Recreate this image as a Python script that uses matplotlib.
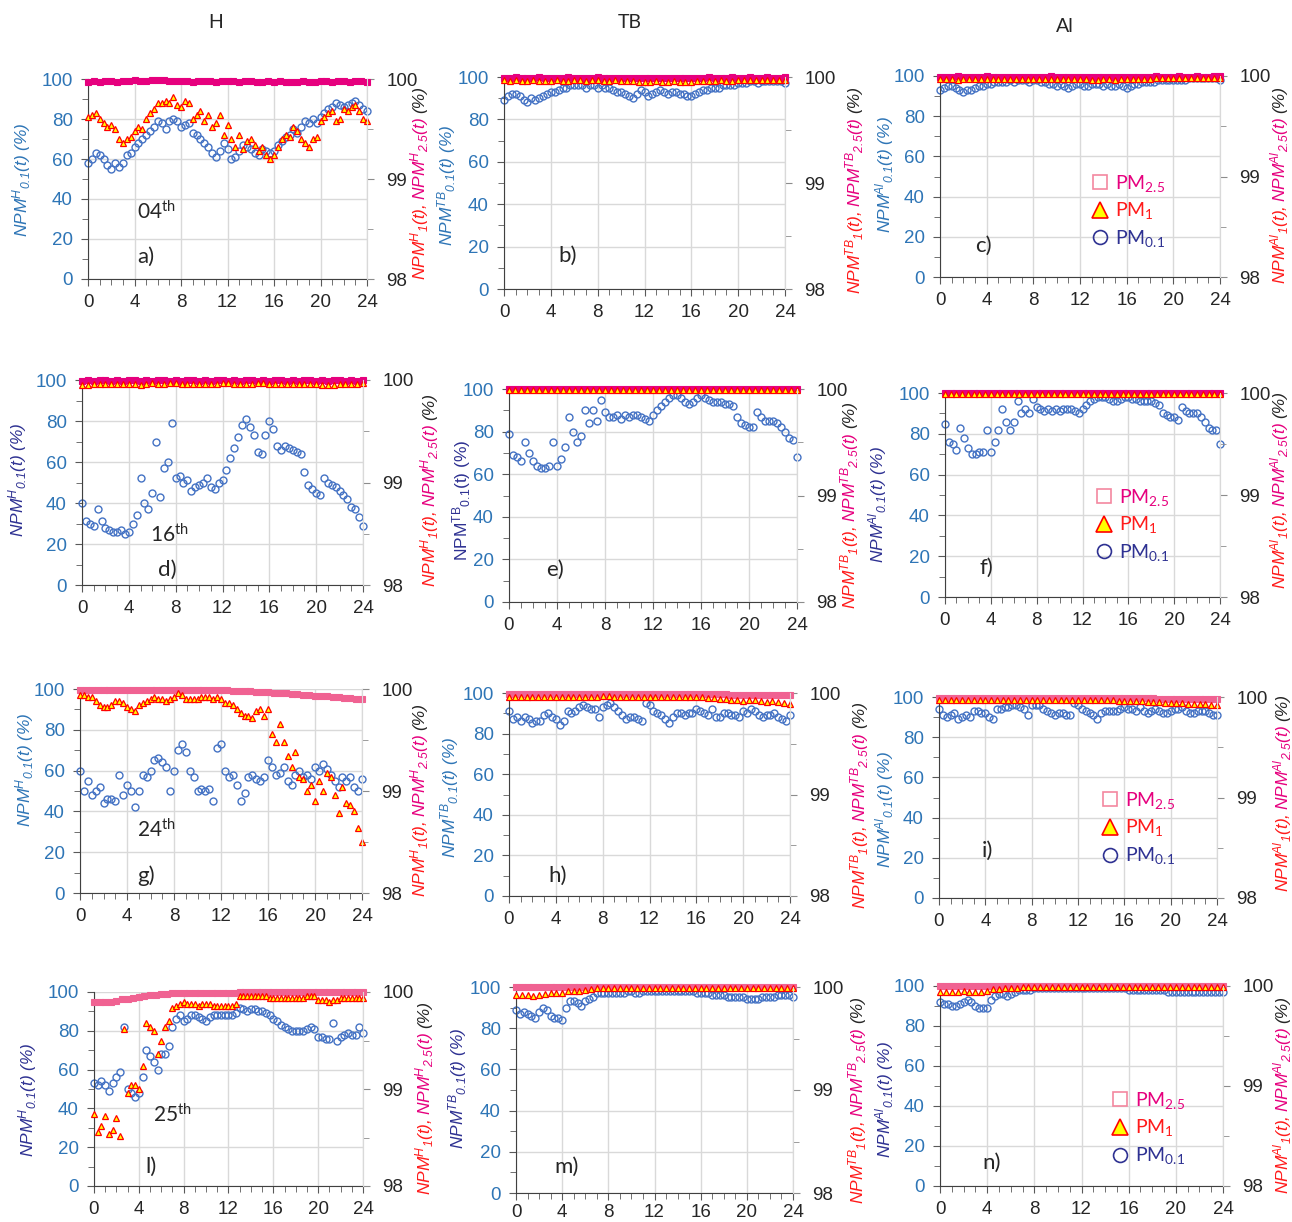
import numpy as np
import matplotlib
matplotlib.use("Agg")
import matplotlib.pyplot as plt
from matplotlib.lines import Line2D
from matplotlib.ticker import MultipleLocator
from matplotlib.transforms import IdentityTransform

plt.rcParams['font.family'] = ['Liberation Sans', 'DejaVu Sans']
plt.rcParams['mathtext.default'] = 'regular'

# ---- data: NPM (%) over the day, PM0.1 on left axis, PM1 / PM2.5 on right axis ----
a_pm01 = [58, 60, 63, 62, 60, 57, 55, 58, 56, 58, 62, 63, 66, 68, 70, 72, 74, 76, 79, 78,
          75, 79, 80, 79, 76, 77, 78, 73, 72, 70, 68, 66, 63, 61, 64, 68, 65, 60, 61, 64,
          67, 66, 65, 63, 62, 65, 64, 63, 64, 67, 69, 71, 72, 75, 73, 76, 79, 78, 80, 78,
          81, 83, 85, 86, 88, 87, 86, 87, 88, 89, 87, 85, 84]
a_pm1 = [99.62, 99.64, 99.66, 99.60, 99.56, 99.52, 99.54, 99.50, 99.40, 99.36, 99.40, 99.42,
         99.48, 99.52, 99.50, 99.60, 99.66, 99.70, 99.76, 99.76, 99.78, 99.76, 99.82, 99.74,
         99.72, 99.78, 99.76, 99.60, 99.64, 99.68, 99.58, 99.64, 99.52, 99.56, 99.64, 99.44,
         99.54, 99.40, 99.32, 99.44, 99.30, 99.38, 99.40, 99.34, 99.28, 99.32, 99.24, 99.20,
         99.24, 99.32, 99.40, 99.44, 99.42, 99.52, 99.48, 99.40, 99.36, 99.32, 99.40, 99.42,
         99.58, 99.62, 99.66, 99.68, 99.58, 99.60, 99.70, 99.68, 99.72, 99.74, 99.68, 99.60,
         99.58]
a_pm25 = [99.97, 99.98, 99.97, 99.98, 99.98, 99.97, 99.98, 99.98, 99.99, 99.98, 99.98, 99.99,
          99.99, 99.99, 99.98, 99.98, 99.98, 99.98, 99.97, 99.98, 99.98, 99.98, 99.97, 99.98,
          99.98, 99.98, 99.97, 99.98, 99.98, 99.97, 99.97, 99.98, 99.97, 99.98, 99.97, 99.97,
          99.97, 99.98, 99.97, 99.97, 99.98, 99.98, 99.97, 99.98, 99.98, 99.97, 99.98, 99.98,
          99.97]

b_pm01 = [89, 91, 92, 92, 91, 89, 88, 90, 89, 90, 91, 92, 93, 93, 94, 95, 95, 96, 96, 96,
          96, 95, 96, 96, 95, 96, 95, 95, 94, 93, 93, 92, 91, 90, 92, 94, 93, 91, 92, 93,
          94, 93, 92, 93, 93, 92, 92, 91, 91, 92, 93, 94, 94, 95, 95, 95, 96, 96, 96, 96,
          97, 97, 97, 98, 98, 97, 98, 98, 98, 98, 98, 98, 97]
b_pm1 = [99.97, 99.96, 99.97, 99.96, 99.96, 99.97, 99.96, 99.96, 99.96, 99.97, 99.96, 99.96,
         99.97, 99.97, 99.96, 99.97, 99.97, 99.96, 99.96, 99.97, 99.96, 99.96, 99.96, 99.95,
         99.95, 99.95, 99.96, 99.95, 99.95, 99.96, 99.95, 99.95, 99.95, 99.96, 99.96, 99.96,
         99.96, 99.97, 99.96, 99.96, 99.97, 99.97, 99.97, 99.97, 99.97, 99.97, 99.97, 99.97,
         99.97]
b_pm25 = [99.99, 99.99, 100.0, 99.99, 99.99, 99.99, 100.0, 99.99, 99.99, 99.99, 99.99, 100.0,
          99.99, 99.99, 99.99, 99.99, 100.0, 99.99, 99.99, 99.99, 99.99, 99.99, 99.99, 99.99,
          99.99, 99.99, 99.99, 99.99, 99.99, 99.99, 99.99, 99.99, 99.99, 99.99, 99.99, 100.0,
          99.99, 99.99, 99.99, 100.0, 99.99, 99.99, 100.0, 99.99, 99.99, 100.0, 99.99, 99.99,
          100.0]

c_pm01 = [93, 94, 95, 95, 94, 93, 92, 93, 93, 94, 95, 95, 96, 96, 97, 97, 97, 97, 98, 97,
          98, 98, 98, 97, 98, 98, 97, 97, 96, 96, 95, 96, 95, 94, 95, 96, 96, 95, 95, 96,
          96, 96, 95, 96, 95, 95, 96, 95, 94, 95, 96, 96, 97, 97, 97, 97, 98, 98, 98, 98,
          98, 98, 98, 98, 99, 99, 99, 99, 99, 99, 99, 99, 98]
c_pm1 = [99.97, 99.97, 99.97, 99.96, 99.97, 99.97, 99.97, 99.97, 99.97, 99.97, 99.97, 99.97,
         99.97, 99.97, 99.97, 99.97, 99.97, 99.97, 99.97, 99.97, 99.97, 99.97, 99.97, 99.97,
         99.97, 99.97, 99.96, 99.96, 99.97, 99.97, 99.96, 99.97, 99.97, 99.97, 99.97, 99.97,
         99.97, 99.98, 99.98, 99.98, 99.98, 99.98, 99.98, 99.98, 99.98, 99.98, 99.98, 99.98,
         99.98]
c_pm25 = [99.99, 99.99, 99.99, 100.0, 99.99, 99.99, 99.99, 99.99, 100.0, 99.99, 99.99, 99.99,
          99.99, 99.99, 99.99, 99.99, 99.99, 99.99, 99.99, 100.0, 99.99, 99.99, 99.99, 99.99,
          99.99, 99.99, 99.99, 99.99, 99.99, 99.99, 99.99, 99.99, 99.99, 99.99, 99.99, 99.99,
          99.99, 100.0, 99.99, 99.99, 99.99, 100.0, 99.99, 99.99, 100.0, 99.99, 99.99, 100.0,
          100.0]

d_pm01 = [40, 31, 30, 29, 37, 31, 28, 27, 26, 26, 27, 25, 26, 30, 34, 52, 40, 37, 45, 70,
          43, 57, 60, 79, 52, 53, 50, 51, 46, 48, 49, 50, 52, 48, 47, 50, 51, 56, 62, 67,
          72, 78, 81, 77, 73, 65, 64, 73, 80, 76, 68, 66, 68, 67, 66, 65, 64, 55, 49, 47,
          45, 44, 52, 50, 49, 48, 46, 44, 42, 38, 37, 33, 29]
d_pm1 = [99.95, 99.95, 99.96, 99.96, 99.96, 99.96, 99.96, 99.96, 99.96, 99.96, 99.95, 99.96,
         99.97, 99.96, 99.96, 99.97, 99.97, 99.96, 99.96, 99.96, 99.96, 99.96, 99.96, 99.96,
         99.97, 99.97, 99.96, 99.96, 99.96, 99.96, 99.97, 99.97, 99.96, 99.96, 99.96, 99.96,
         99.96, 99.96, 99.96, 99.96, 99.96, 99.95, 99.95, 99.95, 99.96, 99.96, 99.96, 99.96,
         99.97]
d_pm25 = [99.99, 100.0, 99.99, 100.0, 100.0, 99.99, 100.0, 99.99, 100.0, 100.0, 99.99, 100.0,
          99.99, 100.0, 100.0, 99.99, 100.0, 99.99, 100.0, 100.0, 99.99, 100.0, 99.99, 100.0,
          100.0, 99.99, 100.0, 99.99, 100.0, 100.0, 99.99, 100.0, 99.99, 100.0, 100.0, 99.99,
          100.0, 99.99, 100.0, 100.0, 99.99, 100.0, 99.99, 100.0, 100.0, 99.99, 100.0, 99.99,
          100.0]

e_pm01 = [79, 69, 68, 66, 75, 70, 66, 64, 63, 63, 64, 75, 64, 67, 73, 87, 80, 75, 78, 90,
          84, 90, 85, 95, 89, 87, 87, 88, 86, 88, 87, 88, 88, 87, 86, 85, 88, 90, 92, 94,
          96, 97, 97, 96, 94, 93, 94, 96, 97, 96, 95, 94, 94, 94, 93, 93, 92, 87, 84, 83,
          82, 82, 89, 87, 85, 85, 85, 84, 82, 80, 77, 76, 68]
e_pm1 = [99.99, 99.99, 99.99, 99.99, 99.99, 99.99, 99.99, 99.99, 99.99, 99.99, 99.99, 99.99,
         99.99, 99.99, 99.99, 99.99, 99.99, 99.99, 99.99, 99.99, 99.99, 99.99, 99.99, 99.99,
         99.99, 99.99, 99.99, 99.99, 99.99, 99.99, 99.99, 99.99, 99.99, 99.99, 99.99, 99.99,
         99.99, 99.99, 99.99, 99.99, 99.99, 99.99, 99.99, 99.99, 99.99, 99.99, 99.99, 99.99,
         99.99]
e_pm25 = [100.0, 100.0, 100.0, 100.0, 100.0, 100.0, 100.0, 100.0, 100.0, 100.0, 100.0, 100.0,
          100.0, 100.0, 100.0, 100.0, 100.0, 100.0, 100.0, 100.0, 100.0, 100.0, 100.0, 100.0,
          100.0, 100.0, 100.0, 100.0, 100.0, 100.0, 100.0, 100.0, 100.0, 100.0, 100.0, 100.0,
          100.0, 100.0, 100.0, 100.0, 100.0, 100.0, 100.0, 100.0, 100.0, 100.0, 100.0, 100.0,
          100.0]

f_pm01 = [85, 76, 75, 72, 83, 78, 73, 70, 70, 71, 71, 82, 71, 76, 82, 92, 86, 82, 86, 96,
          90, 92, 90, 97, 93, 92, 91, 92, 91, 92, 91, 92, 92, 92, 91, 90, 92, 94, 96, 97,
          98, 98, 98, 97, 96, 96, 97, 98, 98, 97, 97, 96, 96, 96, 96, 95, 94, 90, 89, 88,
          88, 87, 93, 91, 90, 90, 90, 88, 86, 83, 82, 82, 75]
f_pm1 = e_pm1
f_pm25 = e_pm25

g_pm01 = [60, 50, 55, 48, 50, 52, 44, 46, 46, 45, 58, 48, 53, 50, 42, 50, 58, 57, 60, 65,
          66, 64, 62, 50, 60, 70, 73, 69, 60, 57, 50, 51, 50, 51, 45, 71, 73, 60, 57, 58,
          53, 45, 49, 57, 58, 56, 55, 57, 65, 62, 58, 59, 62, 55, 53, 58, 60, 57, 58, 56,
          62, 60, 63, 61, 58, 55, 52, 57, 55, 57, 52, 50, 56]
g_pm1 = [99.94, 99.94, 99.92, 99.92, 99.88, 99.84, 99.82, 99.82, 99.84, 99.88, 99.88, 99.86,
         99.82, 99.80, 99.78, 99.84, 99.86, 99.88, 99.90, 99.92, 99.90, 99.90, 99.88, 99.90,
         99.92, 99.96, 99.94, 99.90, 99.90, 99.90, 99.90, 99.92, 99.92, 99.92, 99.90, 99.92,
         99.90, 99.86, 99.86, 99.84, 99.80, 99.76, 99.74, 99.74, 99.72, 99.78, 99.80, 99.74,
         99.80, 99.56, 99.48, 99.66, 99.48, 99.34, 99.24, 99.38, 99.14, 99.12, 99.00, 99.06,
         98.90, 99.10, 99.00, 99.18, 99.14, 98.96, 98.78, 99.04, 98.88, 98.86, 98.80, 98.64,
         98.50]
g_pm25 = [99.99, 99.99, 99.99, 99.99, 99.99, 99.99, 99.99, 99.99, 99.99, 99.99, 99.99, 99.99,
          99.99, 99.99, 99.99, 99.99, 99.99, 99.99, 99.99, 99.99, 99.99, 99.99, 99.99, 99.99,
          99.99, 99.99, 99.98, 99.98, 99.98, 99.98, 99.97, 99.97, 99.97, 99.96, 99.96, 99.96,
          99.95, 99.95, 99.94, 99.94, 99.93, 99.93, 99.93, 99.92, 99.92, 99.91, 99.91, 99.90,
          99.90]

h_pm01 = [91, 87, 88, 86, 88, 87, 85, 86, 86, 89, 90, 88, 87, 84, 86, 91, 90, 91, 93, 94,
          93, 92, 92, 88, 93, 94, 95, 93, 91, 89, 87, 88, 88, 87, 86, 95, 94, 91, 90, 89,
          87, 85, 88, 90, 90, 89, 90, 90, 92, 91, 90, 89, 92, 88, 88, 90, 90, 89, 89, 88,
          91, 90, 92, 91, 89, 88, 89, 89, 90, 88, 87, 86, 89]
h_pm1 = [99.96, 99.96, 99.96, 99.96, 99.96, 99.96, 99.96, 99.96, 99.96, 99.96, 99.96, 99.96,
         99.96, 99.96, 99.96, 99.96, 99.97, 99.97, 99.96, 99.96, 99.96, 99.96, 99.96, 99.96,
         99.96, 99.96, 99.96, 99.96, 99.96, 99.96, 99.96, 99.96, 99.96, 99.96, 99.95, 99.95,
         99.94, 99.94, 99.93, 99.93, 99.92, 99.93, 99.93, 99.92, 99.91, 99.92, 99.91, 99.90,
         99.89]
h_pm25 = [99.99, 99.99, 99.99, 99.99, 99.99, 99.99, 99.99, 99.99, 99.99, 99.99, 99.99, 99.99,
          99.99, 99.99, 99.99, 99.99, 99.99, 99.99, 99.99, 99.99, 99.99, 99.99, 99.99, 99.99,
          99.99, 99.99, 99.99, 99.99, 99.99, 99.99, 99.99, 99.99, 99.99, 99.99, 99.99, 99.99,
          99.99, 99.99, 99.98, 99.98, 99.98, 99.98, 99.98, 99.98, 99.98, 99.98, 99.98, 99.98,
          99.98]

i_pm01 = [94, 91, 90, 91, 92, 89, 90, 91, 90, 93, 93, 92, 92, 90, 89, 94, 94, 95, 95, 96,
          96, 95, 94, 91, 96, 96, 96, 94, 93, 92, 91, 92, 92, 91, 91, 97, 96, 94, 93, 92,
          91, 89, 92, 93, 93, 93, 93, 94, 95, 94, 94, 93, 95, 93, 92, 93, 94, 93, 92, 92,
          93, 94, 94, 95, 93, 92, 92, 93, 93, 93, 92, 91, 91]
i_pm1 = [99.97, 99.97, 99.97, 99.97, 99.97, 99.97, 99.97, 99.97, 99.97, 99.97, 99.97, 99.97,
         99.97, 99.97, 99.97, 99.97, 99.97, 99.97, 99.97, 99.97, 99.97, 99.97, 99.97, 99.97,
         99.97, 99.97, 99.97, 99.97, 99.97, 99.97, 99.97, 99.96, 99.96, 99.96, 99.96, 99.96,
         99.95, 99.95, 99.95, 99.94, 99.94, 99.94, 99.94, 99.93, 99.93, 99.93, 99.93, 99.92,
         99.92]
i_pm25 = h_pm25

l_pm01 = [53, 52, 54, 52, 49, 53, 56, 59, 82, 50, 48, 46, 48, 56, 70, 67, 64, 60, 68, 68,
          72, 82, 86, 88, 85, 86, 88, 88, 87, 86, 85, 87, 88, 88, 88, 88, 88, 88, 89, 92,
          91, 90, 91, 91, 90, 90, 89, 88, 86, 85, 83, 82, 81, 80, 80, 80, 80, 81, 82, 81,
          77, 77, 76, 76, 84, 75, 77, 78, 79, 78, 78, 82, 79]
l_pm1 = [98.74, 98.56, 98.62, 98.72, 98.54, 98.58, 98.70, 98.52, 99.62, 98.96, 99.04, 99.04,
         99.00, 99.24, 99.68, 99.64, 99.60, 99.36, 99.50, 99.64, 99.70, 99.84, 99.86, 99.88,
         99.90, 99.88, 99.88, 99.88, 99.86, 99.88, 99.88, 99.88, 99.86, 99.86, 99.86, 99.86,
         99.86, 99.86, 99.88, 99.96, 99.96, 99.96, 99.96, 99.96, 99.96, 99.96, 99.96, 99.94,
         99.94, 99.94, 99.94, 99.94, 99.94, 99.94, 99.94, 99.94, 99.94, 99.96, 99.96, 99.96,
         99.92, 99.92, 99.92, 99.90, 99.92, 99.92, 99.94, 99.94, 99.94, 99.94, 99.94, 99.94,
         99.94]
l_pm25 = [99.90, 99.90, 99.90, 99.90, 99.91, 99.93, 99.93, 99.94, 99.95, 99.96, 99.97, 99.97,
          99.98, 99.98, 99.99, 99.99, 99.99, 99.99, 99.99, 99.99, 99.99, 99.99, 99.99, 99.99,
          99.99, 99.99, 100.0, 100.0, 100.0, 100.0, 100.0, 100.0, 100.0, 100.0, 100.0, 100.0,
          100.0, 100.0, 100.0, 100.0, 100.0, 100.0, 100.0, 100.0, 100.0, 100.0, 100.0, 100.0,
          100.0]

m_pm01 = [89, 87, 88, 87, 86, 85, 88, 90, 89, 86, 85, 85, 84, 90, 93, 93, 92, 91, 93, 94,
          95, 97, 97, 97, 97, 97, 97, 97, 97, 98, 98, 97, 97, 98, 98, 98, 98, 98, 98, 98,
          98, 98, 98, 98, 98, 98, 98, 97, 97, 97, 97, 96, 96, 96, 96, 95, 95, 95, 95, 95,
          94, 94, 94, 94, 95, 95, 95, 95, 96, 96, 96, 96, 95]
m_pm1 = [99.92, 99.92, 99.92, 99.91, 99.92, 99.93, 99.94, 99.94, 99.94, 99.96, 99.96, 99.96,
         99.97, 99.98, 99.99, 99.99, 99.99, 99.99, 99.99, 99.99, 99.99, 99.99, 99.99, 99.99,
         99.99, 99.99, 99.99, 99.99, 99.99, 99.99, 99.99, 99.99, 99.99, 99.99, 99.99, 99.99,
         99.99, 99.99, 99.99, 99.99, 99.99, 99.99, 99.99, 99.99, 99.99, 99.99, 99.99, 99.99,
         99.99]
m_pm25 = e_pm25

n_pm01 = [92, 91, 91, 90, 90, 91, 92, 93, 92, 90, 89, 89, 89, 93, 95, 96, 96, 95, 96, 97,
          98, 98, 98, 98, 99, 99, 99, 99, 99, 99, 99, 99, 99, 99, 99, 99, 99, 99, 99, 99,
          99, 99, 99, 99, 99, 99, 99, 99, 98, 98, 98, 98, 98, 98, 98, 98, 98, 98, 97, 97,
          97, 97, 97, 97, 97, 97, 97, 97, 97, 97, 97, 97, 97]
n_pm1 = [99.94, 99.94, 99.94, 99.94, 99.95, 99.94, 99.94, 99.94, 99.95, 99.97, 99.97, 99.98,
         99.98, 99.98, 99.99, 99.99, 99.99, 99.99, 99.99, 99.99, 99.99, 99.99, 99.99, 99.99,
         99.99, 99.99, 99.99, 99.99, 99.99, 99.99, 99.99, 99.99, 99.99, 99.99, 99.99, 99.99,
         99.99, 99.99, 99.99, 99.99, 99.99, 99.99, 99.99, 99.99, 99.99, 99.99, 99.99, 99.99,
         99.99]
n_pm25 = e_pm25

columns = ['H', 'TB', 'Al']
days = ['04', '16', '24', '25']
letters = ['a', 'b', 'c', 'd', 'e', 'f', 'g', 'h', 'i', 'l', 'm', 'n']
site_tags = ['H', 'TB', 'Al']

W, H = 1292, 1222
fig = plt.figure(figsize=(W / 100, H / 100), dpi=100)

BLUE_TICK = '#2E75B6'
NAVY = '#2E3192'
RED = '#FF1A1A'
MAG = '#E6007E'
DARK = '#262626'

# panel boxes in pixels (x0, top, x1, bottom)
boxes = {
    'a': (88, 79, 367, 279), 'b': (504, 77, 785, 289), 'c': (940, 76, 1220, 277),
    'd': (82, 380, 363, 585), 'e': (509, 389, 797, 602), 'f': (945, 393, 1220, 597),
    'g': (80, 689, 362, 893), 'h': (509, 693, 790, 896), 'i': (939, 697, 1217, 898),
    'l': (94, 992, 363, 1186), 'm': (516, 987, 793, 1193), 'n': (940, 986, 1223, 1186),
}
series = {
    'a': (a_pm01, a_pm1, a_pm25), 'b': (b_pm01, b_pm1, b_pm25), 'c': (c_pm01, c_pm1, c_pm25),
    'd': (d_pm01, d_pm1, d_pm25), 'e': (e_pm01, e_pm1, e_pm25), 'f': (f_pm01, f_pm1, f_pm25),
    'g': (g_pm01, g_pm1, g_pm25), 'h': (h_pm01, h_pm1, h_pm25), 'i': (i_pm01, i_pm1, i_pm25),
    'l': (l_pm01, l_pm1, l_pm25), 'm': (m_pm01, m_pm1, m_pm25), 'n': (n_pm01, n_pm1, n_pm25),
}
# label placement: (left label x, y centre, colour, italic), (right label x, y centre)
left_lab = {'a': (22, 180, BLUE_TICK, True), 'b': (447, 185, BLUE_TICK, True),
            'c': (885, 175, BLUE_TICK, True), 'd': (18, 480, NAVY, True),
            'e': (462, 500, NAVY, False), 'f': (878, 505, NAVY, True),
            'g': (25, 770, BLUE_TICK, True), 'h': (450, 797, BLUE_TICK, True),
            'i': (885, 810, BLUE_TICK, True), 'l': (28, 1100, NAVY, True),
            'm': (458, 1088, NAVY, True), 'n': (885, 1100, NAVY, True)}
right_lab = {'a': (420, 183), 'b': (855, 190), 'c': (1280, 185), 'd': (430, 490),
             'e': (850, 505), 'f': (1280, 490), 'g': (420, 800), 'h': (860, 805),
             'i': (1283, 793), 'l': (425, 1098), 'm': (858, 1100), 'n': (1283, 1095)}
letter_pos = {'a': (137, 257), 'b': (558, 256), 'c': (975, 246), 'd': (158, 570),
              'e': (546, 570), 'f': (980, 568), 'g': (137, 876), 'h': (548, 876),
              'i': (982, 851), 'l': (145, 1167), 'm': (554, 1167), 'n': (982, 1163)}
day_pos = {'a': (137, 212), 'd': (150, 535), 'g': (137, 830), 'l': (153, 1115)}
legend_pos = {'c': (1090, 211), 'f': (1094, 525), 'i': (1100, 828), 'n': (1110, 1128)}
pink_col = {'a': '#E6007E', 'b': '#E6007E', 'c': '#E6007E', 'd': '#E6007E',
            'e': '#E6007E', 'f': '#E6007E', 'g': '#F06292', 'h': '#F06292',
            'i': '#F06292', 'l': '#F06292', 'm': '#F06292', 'n': '#F06292'}

renderer = fig.canvas.get_renderer()


def vlabel(x, yc, parts, size=12.5, style='italic', gap=4):
    ts = []
    for s, c in parts:
        ts.append(fig.text(x, 0, s, rotation=90, color=c, fontsize=size, style=style,
                           ha='center', va='bottom', transform=IdentityTransform()))
    hs = [t.get_window_extent(renderer).height for t in ts]
    y = (H - yc) - (sum(hs) + gap * (len(ts) - 1)) / 2
    for t, h in zip(ts, hs):
        t.set_y(y)
        y += h + gap


for k, key in enumerate(letters):
    row, col = divmod(k, 3)
    tag = site_tags[col]
    x0, y0, x1, y1 = boxes[key]
    ax = fig.add_axes([x0 / W, 1 - y1 / H, (x1 - x0) / W, (y1 - y0) / H])
    ax2 = ax.twinx()
    pm01, pm1, pm25 = series[key]

    t01 = np.linspace(0, 24, len(pm01))
    ax.plot(t01, pm01, 'o', ms=5, mfc='none', mec='#4472C4', mew=1.0, clip_on=False)
    ax2.plot(np.linspace(0, 24, len(pm25)), pm25, 's', ms=4, mfc=pink_col[key],
             mec=pink_col[key], mew=0.8, clip_on=False)
    ax2.plot(np.linspace(0, 24, len(pm1)), pm1, '^', ms=4.8, mfc='#FFFF00', mec='#FF0000',
             mew=0.9, clip_on=False)

    ax.set_xlim(0, 24)
    ax.set_ylim(0, 100)
    ax2.set_ylim(98, 100)
    ax.xaxis.set_major_locator(MultipleLocator(4))
    ax.xaxis.set_minor_locator(MultipleLocator(1))
    ax.yaxis.set_major_locator(MultipleLocator(20))
    ax.yaxis.set_minor_locator(MultipleLocator(10))
    ax2.yaxis.set_major_locator(MultipleLocator(1))
    ax2.yaxis.set_minor_locator(MultipleLocator(0.5))

    ax.grid(True, which='major', color='#D9D9D9', lw=1)
    ax.set_axisbelow(True)
    ax.spines['top'].set_visible(False)
    ax.spines['right'].set_color('#D9D9D9')
    ax.spines['left'].set_color('#404040')
    ax.spines['bottom'].set_color('#404040')
    for s in ['top', 'left', 'bottom']:
        ax2.spines[s].set_visible(False)
    ax2.spines['right'].set_color('#D9D9D9')

    ax.tick_params(axis='x', which='both', direction='out', color='#595959',
                   labelsize=13.5, labelcolor=DARK, pad=6 if key != 'm' else 3)
    ax.tick_params(axis='x', which='major', length=5)
    ax.tick_params(axis='x', which='minor', length=4)
    ax.tick_params(axis='y', which='both', direction='out', color='#595959',
                   labelsize=13.5, labelcolor=BLUE_TICK, pad=6)
    ax.tick_params(axis='y', which='major', length=5)
    ax.tick_params(axis='y', which='minor', length=4)
    ax2.tick_params(axis='y', which='both', direction='out', color='#8C8C8C',
                    labelsize=13.5, labelcolor=DARK, pad=9)
    ax2.tick_params(axis='y', which='major', length=5)
    ax2.tick_params(axis='y', which='minor', length=4)

    # axis titles (superscript site tag followed by subscript size)
    lx, ly, lc, lit = left_lab[key]
    vlabel(lx, ly, [(f'NPM$^{{{tag}}}$$_{{0.1}}$(t) (%)', lc)],
           style='italic' if lit else 'normal')
    rx, ry = right_lab[key]
    vlabel(rx, ry, [(f'NPM$^{{{tag}}}$$_{{1}}$(t),', RED),
                    (f'NPM$^{{{tag}}}$$_{{2.5}}$(t)', MAG),
                    ('(%)', DARK)])

    px, py = letter_pos[key]
    fig.text(px / W, 1 - py / H, key + ')', fontsize=16, family='Lato', color=DARK,
             ha='left', va='center')
    if key in day_pos:
        dx, dy = day_pos[key]
        fig.text(dx / W, 1 - dy / H, days[row] + '$^{th}$', fontsize=15, family='Lato',
                 color=DARK, ha='left', va='center')
    if key in legend_pos:
        gx, gy = legend_pos[key]
        handles = [Line2D([], [], ls='none', marker='s', ms=10, mfc='none', mec='#F4879F', mew=1.2),
                   Line2D([], [], ls='none', marker='^', ms=11, mfc='#FFFF00', mec='#FF0000', mew=1.2),
                   Line2D([], [], ls='none', marker='o', ms=10, mfc='none', mec=NAVY, mew=1.2)]
        fig.legend(handles, ['PM$_{2.5}$', 'PM$_{1}$', 'PM$_{0.1}$'],
                   loc='center left', bbox_to_anchor=(gx / W, 1 - gy / H),
                   bbox_transform=fig.transFigure, frameon=False, borderpad=0,
                   borderaxespad=0, handlelength=1.0, handletextpad=0.3, labelspacing=0.35,
                   labelcolor=[MAG, RED, NAVY], prop={'family': 'Lato', 'size': 14})

for name, xc, yc in zip(columns, [216, 630, 1065], [22, 22, 27]):
    fig.text(xc / W, 1 - yc / H, name, fontsize=14, family='Lato', color=DARK,
             ha='center', va='center')

fig.savefig('out.png', dpi=100)
